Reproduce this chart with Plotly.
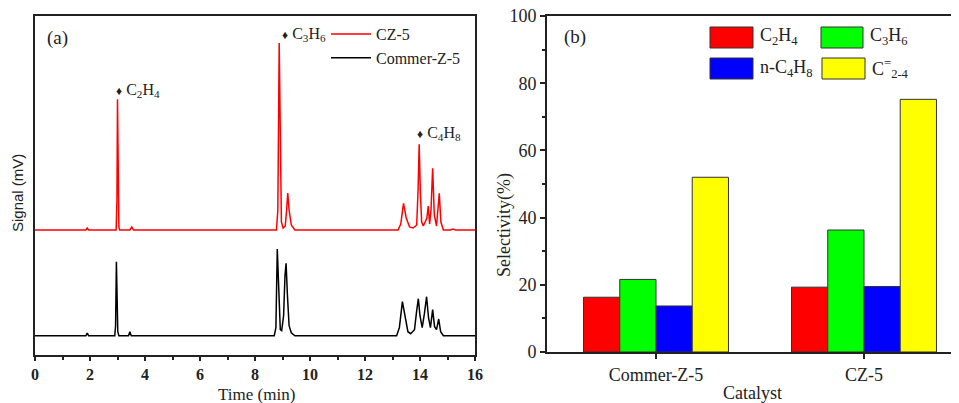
import plotly.graph_objects as go

# ---------------- Data ----------------
# Panel (a): chromatograms (signal above own baseline, arbitrary mV units)
time_cz5 = [0, 1.85, 1.9, 1.95, 2.95, 2.98, 3.0, 3.02, 3.05, 3.08, 3.45, 3.52, 3.58,
            8.78, 8.83, 8.88, 8.92, 8.96, 9.02, 9.10, 9.15, 9.19, 9.24, 9.32, 9.45,
            13.20, 13.30, 13.40, 13.50, 13.62, 13.75, 13.88, 13.93, 13.97, 14.01, 14.06,
            14.12, 14.20, 14.25, 14.30, 14.35, 14.40, 14.46, 14.52, 14.60, 14.65, 14.70,
            14.76, 14.85, 15.1, 15.2, 15.3, 16.0]
signal_cz5 = [0, 0, 2, 0, 0, 30, 130.7, 40, 3, 0, 0, 3, 0,
              0, 20, 187, 60, 8, 2, 4, 20, 37, 20, 5, 0,
              0, 6, 26.7, 12, 3, 2, 5, 40, 85.7, 40, 8,
              4, 10, 12, 24, 6, 20, 61.7, 15, 4, 20, 36.7,
              8, 0, 0, 1, 0, 0]

time_commer = [0, 1.85, 1.9, 1.95, 2.90, 2.93, 2.96, 2.98, 3.01, 3.05, 3.40, 3.45, 3.50,
               8.70, 8.76, 8.81, 8.86, 8.92, 8.97, 9.04, 9.09, 9.13, 9.18, 9.24, 9.32, 9.45,
               13.15, 13.25, 13.36, 13.46, 13.56, 13.66, 13.80, 13.88, 13.94, 14.00, 14.08,
               14.16, 14.24, 14.31, 14.38, 14.46, 14.53, 14.60, 14.68, 14.75, 14.85, 16.0]
signal_commer = [0, 0, 2.5, 0, 0, 10, 74, 30, 4, 0, 0, 4, 0,
                 0, 8, 86.7, 50, 6, 5, 20, 60, 72.4, 40, 10, 3, 0,
                 0, 8, 34, 18, 4, 2, 6, 25, 37, 20, 8,
                 22, 39, 18, 8, 26, 9, 6, 16.7, 4, 0, 0]

offset_cz5 = 125
offset_commer = 19.3

# Panel (b): selectivity
catalysts = ["Commer-Z-5", "CZ-5"]
sel_c2h4 = [16.3, 19.3]
sel_c3h6 = [21.6, 36.3]
sel_nc4h8 = [13.7, 19.5]
sel_c24 = [52.0, 75.2]
sel_ticks = [0, 20, 40, 60, 80, 100]

# ---------------- Layout helpers ----------------
# The page body has an 8px margin, so the figure is drawn 8px right/down.
OFF = 8
W, H = 959 - OFF, 403 - OFF
ML, MR, MT = 35 - OFF, 1, 16 - OFF
MB = H - (355 - OFF)
PW, PH = W - ML - MR, H - MT - MB


def px_x(p):
    return (p - OFF - ML) / PW


def px_y(p):
    return (H - MB - (p - OFF)) / PH


SERIF = "Liberation Serif, Times New Roman, serif"
TXT = "#222222"

fig = go.Figure()

fig.add_trace(go.Scatter(
    x=time_cz5, y=[s + offset_cz5 for s in signal_cz5], mode="lines",
    line=dict(color="#ff0000", width=1.5), name="CZ-5", xaxis="x", yaxis="y"))
fig.add_trace(go.Scatter(
    x=time_commer, y=[s + offset_commer for s in signal_commer], mode="lines",
    line=dict(color="#000000", width=1.5), name="Commer-Z-5", xaxis="x", yaxis="y"))

bar_series = [
    ("C<sub>2</sub>H<sub>4</sub>", sel_c2h4, "#ff0000"),
    ("C<sub>3</sub>H<sub>6</sub>", sel_c3h6, "#00ff00"),
    ("n-C<sub>4</sub>H<sub>8</sub>", sel_nc4h8, "#0000ff"),
    ("C<sup>=</sup><sub>2-4</sub>", sel_c24, "#ffff00"),
]
for name, vals, col in bar_series:
    fig.add_trace(go.Bar(
        x=catalysts, y=vals, name=name, marker=dict(color=col, line=dict(color="#333333", width=1)),
        xaxis="x2", yaxis="y2", showlegend=False))

shapes = []
annotations = []

# custom legend for panel (b)
leg_boxes = [
    (710, 753, 27, 48, "#ff0000", 758, 37, "C<sub>2</sub>H<sub>4</sub>"),
    (821, 863, 27, 48, "#00ff00", 868, 37, "C<sub>3</sub>H<sub>6</sub>"),
    (710, 753, 58, 79, "#0000ff", 758, 68, "n-C<sub>4</sub>H<sub>8</sub>"),
    (822, 865, 58, 79, "#ffff00", 870, 68, "C<sup>=</sup><sub>2-4</sub>"),
]
for x0, x1, y0, y1, col, tx, ty, txt in leg_boxes:
    shapes.append(dict(type="rect", xref="paper", yref="paper",
                       x0=px_x(x0), x1=px_x(x1), y0=px_y(y1), y1=px_y(y0),
                       fillcolor=col, line=dict(color="#333333", width=1)))
    annotations.append(dict(xref="paper", yref="paper", x=px_x(tx), y=px_y(ty),
                            xanchor="left", yanchor="middle", showarrow=False,
                            text=txt, font=dict(family=SERIF, size=18, color=TXT)))

# panel labels
annotations.append(dict(xref="paper", yref="paper", x=px_x(45), y=px_y(38), xanchor="left",
                        yanchor="middle", showarrow=False, text="(a)",
                        font=dict(family=SERIF, size=19, color=TXT)))
annotations.append(dict(xref="paper", yref="paper", x=px_x(562), y=px_y(37), xanchor="left",
                        yanchor="middle", showarrow=False, text="(b)",
                        font=dict(family=SERIF, size=19, color=TXT)))

# axis titles
annotations.append(dict(xref="paper", yref="paper", x=px_x(256), y=px_y(394), xanchor="center",
                        yanchor="middle", showarrow=False, text="Time (min)",
                        font=dict(family=SERIF, size=17, color=TXT)))
annotations.append(dict(xref="paper", yref="paper", x=px_x(752), y=px_y(393), xanchor="center",
                        yanchor="middle", showarrow=False, text="Catalyst",
                        font=dict(family=SERIF, size=18, color=TXT)))
annotations.append(dict(xref="paper", yref="paper", x=px_x(505), y=px_y(225), xanchor="center",
                        yanchor="middle", showarrow=False, text="Selectivity(%)", textangle=-90,
                        font=dict(family=SERIF, size=18, color=TXT)))
annotations.append(dict(xref="paper", yref="paper", x=px_x(18), y=px_y(193), xanchor="center",
                        yanchor="middle", showarrow=False, text="Signal (mV)", textangle=-90,
                        font=dict(family="Liberation Sans, Arial, sans-serif", size=15, color=TXT)))

# peak labels
DIA = "<span style='font-size:12px'>\u2666</span> "
peak_labels = [
    (2.87, 265, DIA + "C<sub>2</sub>H<sub>4</sub>"),
    (8.90, 321, DIA + "C<sub>3</sub>H<sub>6</sub>"),
    (13.81, 222, DIA + "C<sub>4</sub>H<sub>8</sub>"),
]
for tx, ty, txt in peak_labels:
    annotations.append(dict(xref="x", yref="y", x=tx, y=ty, xanchor="left", yanchor="middle",
                            showarrow=False, text=txt,
                            font=dict(family=SERIF, size=16, color=TXT)))

fig.update_layout(
    width=W, height=H,
    margin=dict(l=ML, r=MR, t=MT, b=MB, autoexpand=False),
    paper_bgcolor="white", plot_bgcolor="white",
    barmode="group", bargap=0.303, bargroupgap=0,
    font=dict(family=SERIF, color=TXT),
    showlegend=True,
    legend=dict(x=px_x(326), y=px_y(17), xanchor="left", yanchor="top",
                bgcolor="rgba(0,0,0,0)", font=dict(family=SERIF, size=16, color=TXT),
                tracegroupgap=0, itemwidth=40),
    xaxis=dict(domain=[0, px_x(475)], range=[0, 16], dtick=2, tick0=0, automargin=False,
               ticklabeloverflow="allow",
               showline=True, linecolor="#222", linewidth=1.5, mirror=True,
               ticks="outside", ticklen=4, tickwidth=1.5, tickcolor="#222",
               minor=dict(dtick=1, ticks="outside", ticklen=3, tickwidth=1.5, tickcolor="#222"),
               showgrid=False, zeroline=False,
               tickfont=dict(family=SERIF, size=16, color=TXT, weight="bold")),
    yaxis=dict(domain=[0, 1], range=[0, PH], showticklabels=False, ticks="", automargin=False,
               showline=True, linecolor="#222", linewidth=1.5, mirror=True,
               showgrid=False, zeroline=False),
    xaxis2=dict(domain=[px_x(547), 1], anchor="y2", range=[-0.524, 1.452], automargin=False,
                showline=True, linecolor="#222", linewidth=2, mirror=True,
                ticks="outside", ticklen=5, tickwidth=1.5, tickcolor="#222",
                showgrid=False, zeroline=False,
                tickfont=dict(family=SERIF, size=18, color=TXT)),
    yaxis2=dict(domain=[px_y(352), 1], anchor="x2", range=[0, 100],
                tickmode="array", tickvals=sel_ticks, ticktext=[str(v) for v in sel_ticks],
                automargin=False, ticklabeloverflow="allow",
                showline=True, linecolor="#222", linewidth=2, mirror=False,
                ticks="outside", ticklen=5, tickwidth=1.5, tickcolor="#222",
                minor=dict(dtick=10, ticks="outside", ticklen=3, tickwidth=1.5, tickcolor="#222"),
                showgrid=False, zeroline=False,
                tickfont=dict(family=SERIF, size=18, color=TXT)),
    shapes=shapes,
    annotations=annotations,
)

fig.write_html("out.html")
